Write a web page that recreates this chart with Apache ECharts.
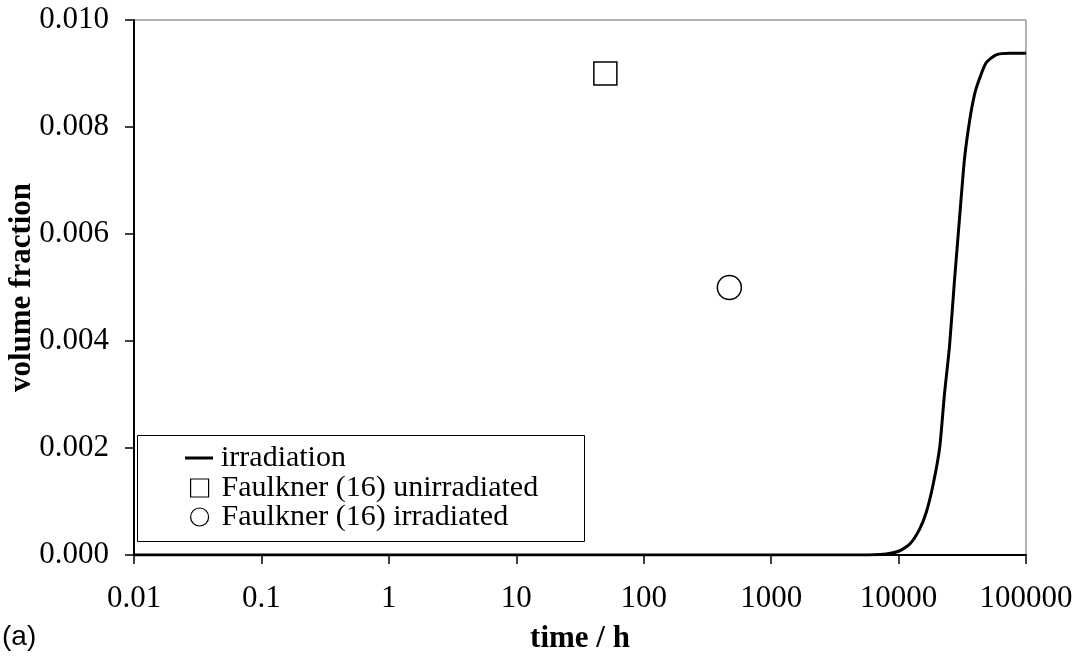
<!DOCTYPE html>
<html>
<head>
<meta charset="utf-8">
<script src="https://cdn.jsdelivr.net/npm/echarts@6/dist/echarts.min.js"></script>
<style>
  html, body { margin: 0; padding: 0; background: #fff; }
  #chart { width: 1077px; height: 661px; }
</style>
</head>
<body>
<div id="chart"></div>
<script>
// irradiation curve
const timeH = [0.01, 0.1, 1, 10, 100, 1000, 5000, 8000, 10000, 12200, 14600, 16500, 18600, 21000,
  22900, 25100, 27400, 30100, 32900, 36000, 39400, 43100, 48600, 58200, 75000, 100000]
const fraction = [0, 0, 0, 0, 0, 0, 0, 0.00002, 0.00007, 0.0002, 0.00048, 0.0008, 0.0013, 0.002,
  0.003, 0.0039, 0.0051, 0.0063, 0.0074, 0.0081, 0.0086, 0.0089, 0.0092, 0.00935, 0.00938, 0.00938]

// Faulkner (16) data points
const unirrTime = [50]
const unirrFraction = [0.009]
const irrTime = [470]
const irrFraction = [0.005]

const seriesNames = ['irradiation', 'Faulkner (16) unirradiated', 'Faulkner (16) irradiated']
const xTickLabels = ['0.01', '0.1', '1', '10', '100', '1000', '10000', '100000']

const serif = 'Liberation Serif'
const zip = (xs, ys) => xs.map((x, i) => [x, ys[i]])

const chart = echarts.init(document.getElementById('chart'))

const legendBase = {
  orient: 'vertical',
  selectedMode: false,
  padding: 0,
  itemGap: 0,
  z: 10,
  textStyle: { fontFamily: serif, fontSize: 30, color: '#000', lineHeight: 30 },
}

chart.setOption({
  animation: false,
  backgroundColor: '#fff',
  grid: {
    left: 134,
    right: 51,
    top: 20,
    bottom: 106,
    outerBoundsMode: 'none',
    containLabel: false,
    show: true,
    borderColor: '#666',
    borderWidth: 1,
  },
  xAxis: {
    type: 'log',
    logBase: 10,
    min: 0.01,
    max: 100000,
    splitNumber: 10,
    name: 'time / h',
    nameLocation: 'middle',
    nameGap: 68,
    nameMoveOverlap: false,
    nameTextStyle: { fontFamily: serif, fontSize: 31, fontWeight: 'bold', color: '#000' },
    axisLine: { lineStyle: { color: '#000', width: 2 } },
    axisTick: { inside: false, length: 9, lineStyle: { color: '#000', width: 1.5 } },
    axisLabel: {
      margin: 28,
      fontFamily: serif,
      fontSize: 31,
      color: '#000',
      hideOverlap: false,
      formatter: v => xTickLabels[Math.round(Math.log10(v)) + 2],
    },
    splitLine: { show: false },
    minorTick: { show: false },
  },
  yAxis: {
    type: 'value',
    min: 0,
    max: 0.01,
    interval: 0.002,
    name: 'volume fraction',
    nameLocation: 'middle',
    nameRotate: 90,
    nameGap: 97,
    nameMoveOverlap: false,
    nameTextStyle: { fontFamily: serif, fontSize: 31, fontWeight: 'bold', color: '#000' },
    axisLine: { show: true, lineStyle: { color: '#000', width: 2 } },
    axisTick: { show: true, length: 9, lineStyle: { color: '#000', width: 1.5 } },
    axisLabel: {
      margin: 25,
      fontFamily: serif,
      fontSize: 31,
      color: '#000',
      formatter: v => v.toFixed(3),
    },
    splitLine: { show: false },
  },
  legend: [
    {
      ...legendBase,
      data: [seriesNames[0]],
      left: 185,
      top: 443,
      icon: 'rect',
      itemWidth: 28,
      itemHeight: 3,
      itemStyle: { color: '#000', borderWidth: 0 },
      textStyle: { ...legendBase.textStyle, padding: [0, 0, 0, 3] },
    },
    {
      ...legendBase,
      data: [seriesNames[1]],
      left: 190,
      top: 473,
      icon: 'rect',
      itemWidth: 18,
      itemHeight: 18,
      itemStyle: { color: '#fff', borderColor: '#000', borderWidth: 1.2 },
      textStyle: { ...legendBase.textStyle, padding: [0, 0, 0, 8] },
    },
    {
      ...legendBase,
      data: [seriesNames[2]],
      left: 190,
      top: 502,
      icon: 'circle',
      itemWidth: 18,
      itemHeight: 18,
      itemStyle: { color: '#fff', borderColor: '#000', borderWidth: 1.2 },
      textStyle: { ...legendBase.textStyle, padding: [0, 0, 0, 8] },
    },
  ],
  graphic: [
    {
      type: 'rect',
      z: 2,
      shape: { x: 137.5, y: 435.5, width: 447, height: 106 },
      style: { fill: '#fff', stroke: '#000', lineWidth: 1 },
    },
    {
      type: 'text',
      left: 2,
      top: 623,
      style: { text: '(a)', font: '28px "Liberation Sans"', fill: '#000' },
    },
  ],
  series: [
    {
      name: seriesNames[0],
      type: 'line',
      data: zip(timeH, fraction),
      showSymbol: false,
      smooth: 0.2,
      lineStyle: { color: '#000', width: 3 },
      itemStyle: { color: '#000' },
      z: 3,
    },
    {
      name: seriesNames[1],
      type: 'scatter',
      data: zip(unirrTime, unirrFraction),
      symbol: 'rect',
      symbolSize: 23,
      itemStyle: { color: '#fff', borderColor: '#000', borderWidth: 1.5, opacity: 1 },
      z: 4,
    },
    {
      name: seriesNames[2],
      type: 'scatter',
      data: zip(irrTime, irrFraction),
      symbol: 'circle',
      symbolSize: 24,
      itemStyle: { color: '#fff', borderColor: '#000', borderWidth: 1.5, opacity: 1 },
      z: 4,
    },
  ],
})
</script>
</body>
</html>
